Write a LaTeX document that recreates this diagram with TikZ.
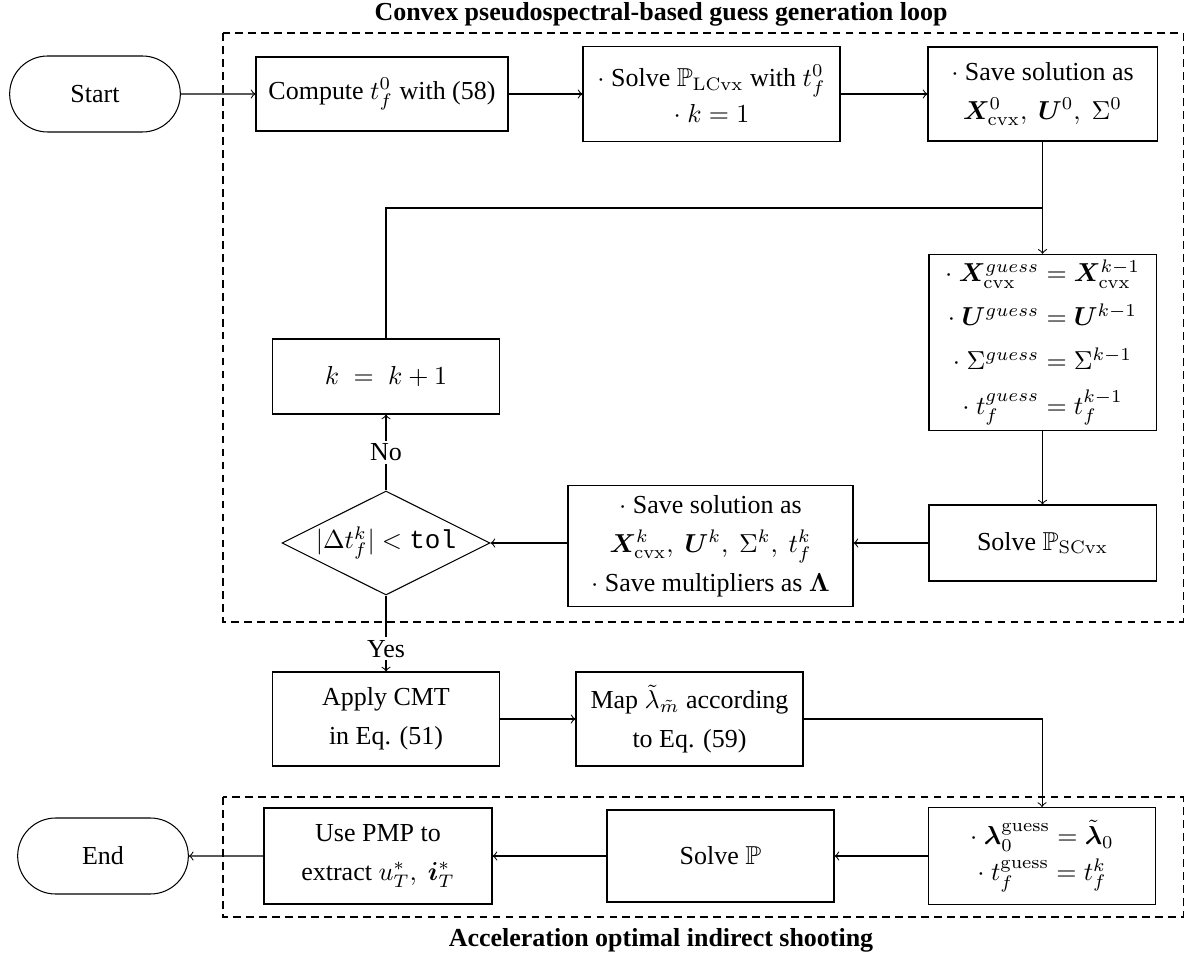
\documentclass[tikz,border=0pt]{standalone}
\usepackage{amsmath}
\usepackage{amssymb}
\usepackage{bm}
\usepackage[no-math]{fontspec}
\setmainfont{Liberation Serif}
\setmonofont{Liberation Mono}
\usetikzlibrary{shapes.geometric,shapes.misc}

\newlength{\pxl}
\setlength{\pxl}{0.385pt}

\begin{document}
\begin{tikzpicture}[x=0.385pt,y=-0.385pt,
  box/.style={draw,align=center,minimum width=227\pxl,minimum height=94\pxl,inner sep=2pt},
  term/.style={draw,rounded rectangle,minimum width=188\pxl,minimum height=76\pxl},
  decision/.style={draw,diamond,aspect=2,inner sep=0pt,minimum width=208\pxl,minimum height=104\pxl},
  loopbox/.style={draw,dash pattern=on 3pt off 2pt},
  lbl/.style={fill=white,inner sep=1pt}]
\useasboundingbox (0,0) rectangle (1196,957);

% titles and dashed frames
\node[font=\bfseries] (looptitle) at (661,14) {Convex pseudospectral-based guess generation loop};
\node[font=\bfseries] (shoottitle) at (661,940) {Acceleration optimal indirect shooting};
\draw[loopbox] (223,33) rectangle (1183,622);
\draw[loopbox] (223,797) rectangle (1183,917);

% top row
\node[term] (start) at (95,94) {Start};
\node[box,minimum width=252\pxl,minimum height=74\pxl] (comp) at (382,94) {Compute $t_f^0$ with (58)};
\node[box,minimum width=257\pxl,minimum height=95\pxl] (lcvx) at (711.5,94) {$\cdot$ Solve $\mathbb{P}_{\mathrm{LCvx}}$ with $t_f^0$\\[2pt] $\cdot$ $k=1$};
\node[box,minimum width=229\pxl] (save0) at (1042.5,94) {$\cdot$ Save solution as\\[3pt] $\bm{X}^0_{\mathrm{cvx}},\ \bm{U}^0,\ \Sigma^0$};

% loop
\node[box,minimum height=173\pxl] (guess) at (1042.5,342.5) {$\cdot$ $\bm{X}^{guess}_{\mathrm{cvx}} = \bm{X}^{k-1}_{\mathrm{cvx}}$\\[5pt] $\cdot$ $\bm{U}^{guess} = \bm{U}^{k-1}$\\[5pt] $\cdot$ $\Sigma^{guess} = \Sigma^{k-1}$\\[5pt] $\cdot$ $t_f^{guess} = t_f^{k-1}$};
\node[box,minimum height=75\pxl] (kbox) at (386,376.5) {$k\;=\;k+1$};
\node[box,minimum height=76\pxl] (scvx) at (1042.5,543) {Solve $\mathbb{P}_{\mathrm{SCvx}}$};
\node[box,minimum width=285\pxl,minimum height=121\pxl] (savek) at (710.5,546) {$\cdot$ Save solution as\\[3pt] $\bm{X}^k_{\mathrm{cvx}},\ \bm{U}^k,\ \Sigma^k,\ t_f^k$\\[3pt] $\cdot$ Save multipliers as $\bm{\Lambda}$};
\node[decision] (check) at (386,543) {$|\Delta t_f^k| < \texttt{tol}$};

% after the loop
\node[box] (cmt) at (386,719) {Apply CMT\\[3pt] in Eq. (51)};
\node[box] (map) at (689.5,719) {Map $\tilde{\lambda}_{\tilde{m}}$ according\\[3pt] to Eq. (59)};
\node[box,minimum height=97\pxl] (lamb) at (1042,856) {$\cdot$ $\bm{\lambda}_0^{\mathrm{guess}} = \tilde{\bm{\lambda}}_0$\\[2pt] $\cdot$ $t_f^{\mathrm{guess}} = t_f^k$};
\node[box,minimum height=92\pxl] (solp) at (720.5,856) {Solve $\mathbb{P}$};
\node[box,minimum width=228\pxl,minimum height=96\pxl] (pmp) at (378,856) {Use PMP to\\[3pt] extract $u_T^*,\ \bm{i}_T^*$};
\node[term] (endn) at (103,856) {End};

\coordinate (join) at (1042.5,208);

\draw[->] (start) -- (comp);
\draw[->] (comp) -- (lcvx);
\draw[->] (lcvx) -- (save0);
\draw[->] (save0) -- (guess);
\draw (kbox.north) |- (join);
\draw[->] (guess) -- (scvx);
\draw[->] (scvx.west) -- (scvx.west -| savek.east);
\draw[->] (savek.west |- check.east) -- (check.east);
\draw[->] (check) -- node[lbl] {No} (kbox);
\draw[->] (check) -- node[lbl,pos=0.7] {Yes} (cmt);
\draw[->] (cmt) -- (map);
\draw[->] (map) -| (lamb);
\draw[->] (lamb) -- (solp);
\draw[->] (solp) -- (pmp);
\draw[->] (pmp) -- (endn);

\end{tikzpicture}
\end{document}
